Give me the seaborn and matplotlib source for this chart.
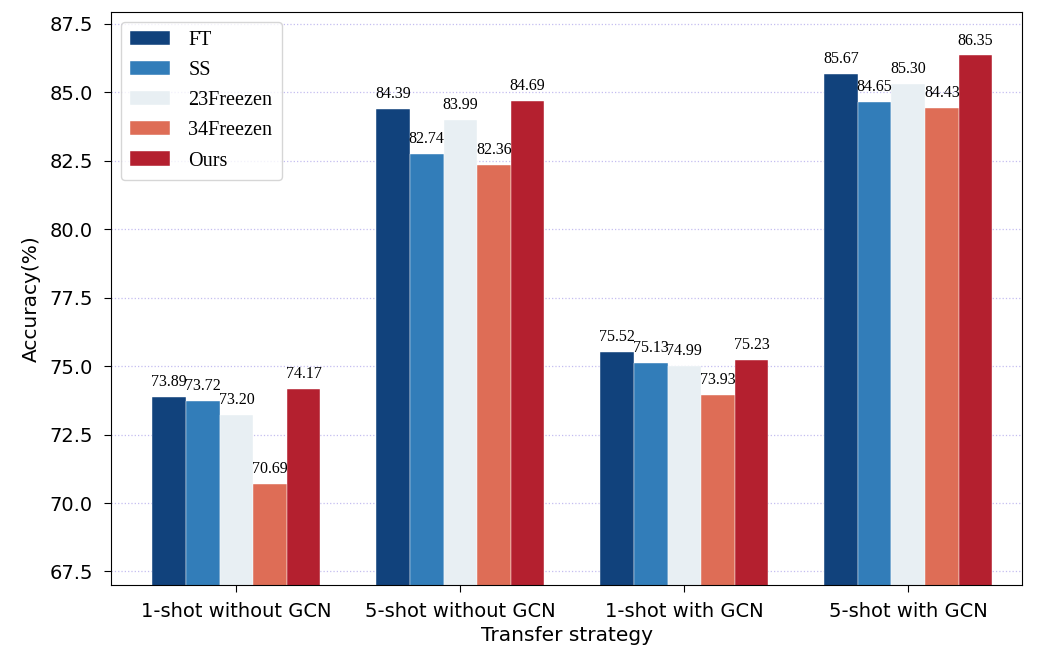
import seaborn as sns
import pandas as pd
import numpy as np
import matplotlib.pyplot as plt

# カテゴリと手法
categories = ['1-shot without GCN', '5-shot without GCN', '1-shot with GCN', '5-shot with GCN']
methods = ['FT', 'SS', '23Freezen', '34Freezen', 'Ours']

ft = [73.89, 84.39, 75.52, 85.67]
ss = [73.72, 82.74, 75.13, 84.65]
f23 = [73.20, 83.99, 74.99, 85.30]
f34 = [70.69, 82.36, 73.93, 84.43]
ours = [74.17, 84.69, 75.23, 86.35]

colors = ['#11427c', '#327db9', '#e8eff3', '#de6d56', '#b4202f']

rows = []
for m, vals in zip(methods, [ft, ss, f23, f34, ours]):
    for c, v in zip(categories, vals):
        rows.append({'strategy': c, 'method': m, 'acc': v})
df = pd.DataFrame(rows)

fig = plt.figure(figsize=(10.37, 6.48), dpi=100)
ax = fig.add_axes([0.107, 0.097, 0.879, 0.885])
sns.barplot(data=df, x='strategy', y='acc', hue='method', palette=colors,
            width=0.75, ax=ax, edgecolor='white', linewidth=0.3, saturation=1)

for cont in ax.containers:
    ax.bar_label(cont, fmt='%.2f', padding=5, fontsize=11.5, family='Liberation Serif')

ax.set_xlim(-0.56, 3.51)
ax.set_ylim(67, 87.95)
ax.set_yticks(np.arange(67.5, 87.6, 2.5))
ax.grid(axis='y', linestyle=':', color='#c4bdf0', linewidth=0.9)
ax.set_axisbelow(True)
ax.set_xlabel('Transfer strategy', fontsize=14.5)
ax.set_ylabel('Accuracy(%)', fontsize=14.5, labelpad=6)
ax.tick_params(labelsize=14)
ax.tick_params(axis='y', pad=8, length=5)
ax.tick_params(axis='x', pad=7, length=5)
ax.legend(loc='upper left', prop={'family': 'Liberation Serif', 'size': 14.5},
          handlelength=2.0, handleheight=0.7, handletextpad=0.9, borderpad=0.45,
          labelspacing=0.55)

fig.savefig('out.png', dpi=100)
